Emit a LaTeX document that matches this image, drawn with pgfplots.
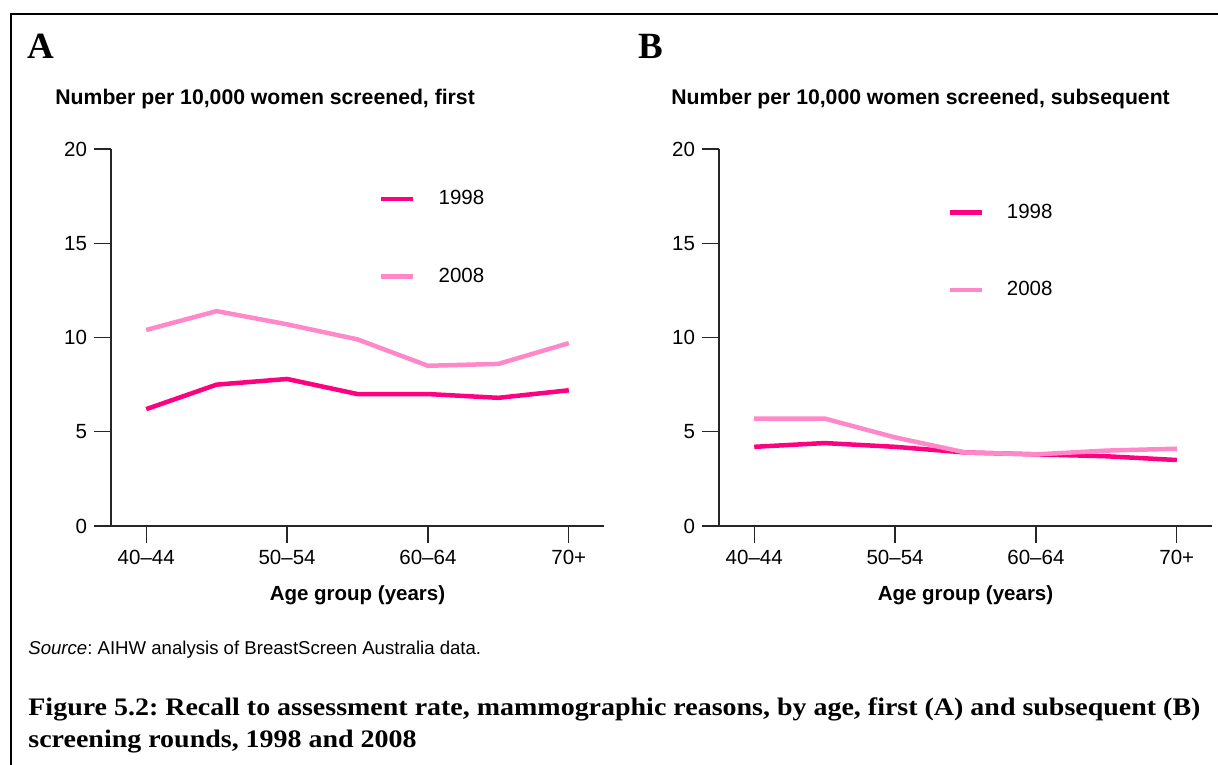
\documentclass[border=0pt]{standalone}
\usepackage{fontspec}
\setmainfont{Liberation Sans}
\newfontfamily\capfont[FakeStretch=1.11]{Liberation Serif}
\newfontfamily\letterfont{Liberation Serif}
\usepackage{pgfplots}
\pgfplotsset{compat=1.18}
\frenchspacing

\definecolor{yrA}{RGB}{255,0,128}
\definecolor{yrB}{RGB}{255,136,200}

\newcommand{\lblfont}{\fontsize{10.25}{12}\selectfont}
\newcommand{\ttlfont}{\fontsize{10.6}{12}\selectfont\bfseries}

\pgfplotsset{
  panel/.style={
    scale only axis, width=246.5pt, height=188.5pt,
    xmin=-0.5, xmax=6.5, ymin=0, ymax=20,
    axis x line*=bottom, axis y line*=left,
    axis line style={line width=0.6pt, black!85},
    tick style={line width=0.6pt, black!85},
    tick align=outside, major tick length=8.5pt,
    xtick={0,2,4,6}, xticklabels={40--44,50--54,60--64,70+},
    ytick={0,5,10,15,20},
    /pgf/number format/assume math mode=true,
    tick label style={font=\lblfont},
    xlabel={Age group (years)},
    xlabel style={font=\lblfont\bfseries, at={(axis description cs:0.5,0)},
      anchor=base, yshift=-37pt},
    legend cell align=left,
    legend style={draw=none, fill=none, inner sep=0pt, row sep=30pt,
      anchor=north west, font=\lblfont,
      nodes={inner sep=0pt, text depth=0.15em},
      /tikz/every odd column/.append style={column sep=11.5pt}},
    legend image code/.code={\draw[##1] (0pt,0pt) -- (16pt,0pt);},
    every axis plot/.append style={line width=2.25pt},
  }
}

\begin{document}
\begin{tikzpicture}[x=0.5pt,y=-0.5pt]
\useasboundingbox (0,0) rectangle (1218,764);
\draw[line width=1pt] (11,770) -- (11,14) -- (1220,14);

% panel letters and titles
\node[anchor=base west, inner sep=0, font=\letterfont\bfseries\fontsize{18.5}{20}\selectfont] at (27,59) {A};
\node[anchor=base west, inner sep=0, font=\letterfont\bfseries\fontsize{18.5}{20}\selectfont] at (638,59) {B};
\node[anchor=base west, inner sep=0, font=\ttlfont] at (55,105) {Number per 10,000 women screened, first};
\node[anchor=base west, inner sep=0, font=\ttlfont] at (671,105) {Number per 10,000 women screened, subsequent};

% first screening round
\begin{axis}[panel, at={(55.5pt,-263pt)}, anchor=south west,
  legend style={at={(axis description cs:0.543,0.891)}}]
\addplot[yrA] coordinates {(0,6.2) (1,7.5) (2,7.8) (3,7.0) (4,7.0) (5,6.8) (6,7.2)};
\addlegendentry{1998}
\addplot[yrB] coordinates {(0,10.4) (1,11.4) (2,10.7) (3,9.9) (4,8.5) (5,8.6) (6,9.7)};
\addlegendentry{2008}
\end{axis}

% subsequent screening rounds
\begin{axis}[panel, at={(359.5pt,-263pt)}, anchor=south west,
  legend style={at={(axis description cs:0.4625,0.855)}}]
\addplot[yrA] coordinates {(0,4.2) (1,4.4) (2,4.2) (3,3.9) (4,3.8) (5,3.7) (6,3.5)};
\addlegendentry{1998}
\addplot[yrB] coordinates {(0,5.7) (1,5.7) (2,4.7) (3,3.9) (4,3.8) (5,4.0) (6,4.1)};
\addlegendentry{2008}
\end{axis}

% source and caption
\node[anchor=base west, inner sep=0, font=\fontsize{9.3}{11}\selectfont] at (28,654)
  {\textit{Source}: AIHW analysis of BreastScreen Australia data.};
\node[anchor=base west, inner sep=0, font=\capfont\bfseries\fontsize{12.6}{15}\selectfont] at (28,715)
  {Figure 5.2: Recall to assessment rate, mammographic reasons, by age, first (A) and subsequent (B)};
\node[anchor=base west, inner sep=0, font=\capfont\bfseries\fontsize{12.6}{15}\selectfont] at (28,747)
  {screening rounds, 1998 and 2008};
\end{tikzpicture}
\end{document}
